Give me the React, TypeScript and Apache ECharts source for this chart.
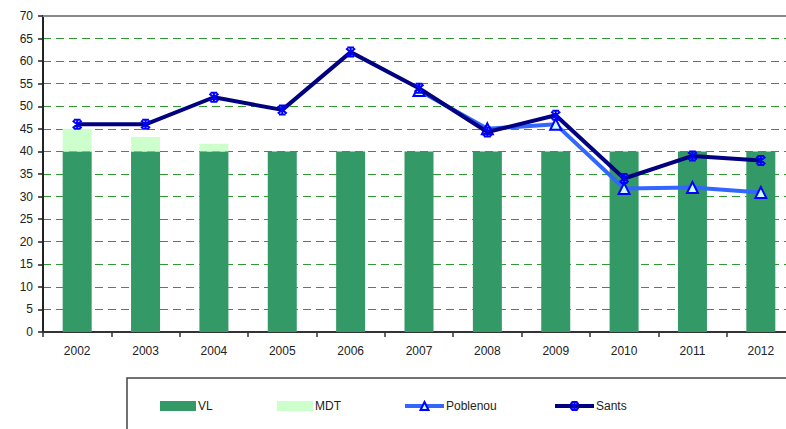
import React, { useEffect, useRef } from "react";
import * as echarts from "echarts";

const years = ["2002", "2003", "2004", "2005", "2006", "2007", "2008", "2009", "2010", "2011", "2012"];
const vlValues = [40, 40, 40, 40, 40, 40, 40, 40, 40, 40, 40];
const mdtValues = [5, 3.2, 1.7, 0, 0, 0, 0, 0, 0, 0, 0];
const poblenouValues = [null, null, null, null, null, 53.5, 45, 46, 31.8, 32, 30.9];
const santsValues = [46, 46, 52, 49.2, 62, 54, 44.3, 48, 34, 39, 38];

const yMin = 0;
const yMax = 70;
const yStep = 5;

const starSymbol = "path://M1,1 L9,9 M9,1 L1,9 M5,0 L5,10 M2,0 L8,0 M2,10 L8,10";

export default function App() {
  const ref = useRef<HTMLDivElement>(null);

  useEffect(() => {
    if (!ref.current) return;
    const chart = echarts.init(ref.current, null, { renderer: "svg" });
    const font = "'Liberation Sans', Arial, sans-serif";
    const legendBase = {
      top: 400,
      padding: 0,
      itemWidth: 36,
      itemHeight: 10,
      selectedMode: false,
      textStyle: { fontFamily: font, fontSize: 12, color: "#222", padding: [0, 0, 0, -3] },
    };
    chart.setOption({
      animation: false,
      backgroundColor: "#ffffff",
      textStyle: { fontFamily: font },
      grid: { left: 43, top: 16, width: 752, height: 316, containLabel: false },
      graphic: [
        {
          type: "rect",
          z: -1,
          shape: { x: 127, y: 378, width: 700, height: 100 },
          style: { fill: "#ffffff", stroke: "#444444", lineWidth: 1.5 },
          silent: true,
        },
      ],
      legend: [
        { ...legendBase, left: 160, data: [{ name: "VL", icon: "rect" }] },
        { ...legendBase, left: 277, data: [{ name: "MDT", icon: "rect" }] },
        {
          ...legendBase,
          left: 403,
          itemWidth: 39,
          data: [{ name: "Poblenou", lineStyle: { width: 4, color: "#3366FF" } }],
        },
        {
          ...legendBase,
          left: 553,
          itemWidth: 39,
          data: [{ name: "Sants", lineStyle: { width: 4, color: "#000080" } }],
        },
      ],
      xAxis: [
        {
          type: "category",
          data: years,
          boundaryGap: true,
          axisLine: { show: true, lineStyle: { color: "#333333", width: 2 } },
          axisTick: { show: true, length: 5, lineStyle: { color: "#333333", width: 1.5 } },
          axisLabel: { fontSize: 12, color: "#222222", margin: 13, fontFamily: font },
          splitLine: { show: false },
        },
        {
          type: "category",
          data: years,
          position: "top",
          axisLine: { show: true, lineStyle: { color: "#888888", width: 2 } },
          axisTick: { show: false },
          axisLabel: { show: false },
          splitLine: { show: false },
        },
      ],
      yAxis: {
        type: "value",
        min: yMin,
        max: yMax,
        interval: yStep,
        axisLine: { show: true, lineStyle: { color: "#222222", width: 2 } },
        axisTick: { show: true, length: 5, lineStyle: { color: "#222222", width: 1.5 } },
        axisLabel: { fontSize: 12, color: "#222222", margin: 10, fontFamily: font },
        splitLine: {
          show: true,
          lineStyle: { color: "#2f9a2f", type: [8, 5], width: 1 },
        },
      },
      series: [
        {
          name: "VL",
          type: "bar",
          stack: "total",
          data: vlValues,
          barWidth: 29,
          itemStyle: { color: "#339966" },
        },
        {
          name: "MDT",
          type: "bar",
          stack: "total",
          data: mdtValues,
          barWidth: 29,
          itemStyle: { color: "#CCFFCC" },
        },
        {
          name: "Poblenou",
          type: "line",
          data: poblenouValues,
          connectNulls: false,
          symbol: "triangle",
          symbolSize: 11,
          showAllSymbol: true,
          lineStyle: { color: "#3366FF", width: 4 },
          itemStyle: { color: "#CCFFFF", borderColor: "#0000FF", borderWidth: 2 },
          z: 3,
        },
        {
          name: "Sants",
          type: "line",
          data: santsValues,
          symbol: starSymbol,
          symbolSize: 9,
          showAllSymbol: true,
          lineStyle: { color: "#000080", width: 4 },
          itemStyle: { color: "#0000FF", borderColor: "#0000FF", borderWidth: 2 },
          z: 4,
        },
      ],
    });
    return () => chart.dispose();
  }, []);

  return (
    <div
      style={{
        position: "fixed",
        left: 0,
        top: 0,
        width: 786,
        height: 429,
        overflow: "hidden",
        background: "#fff",
      }}
    >
      <div ref={ref} style={{ width: 820, height: 429 }} />
    </div>
  );
}
